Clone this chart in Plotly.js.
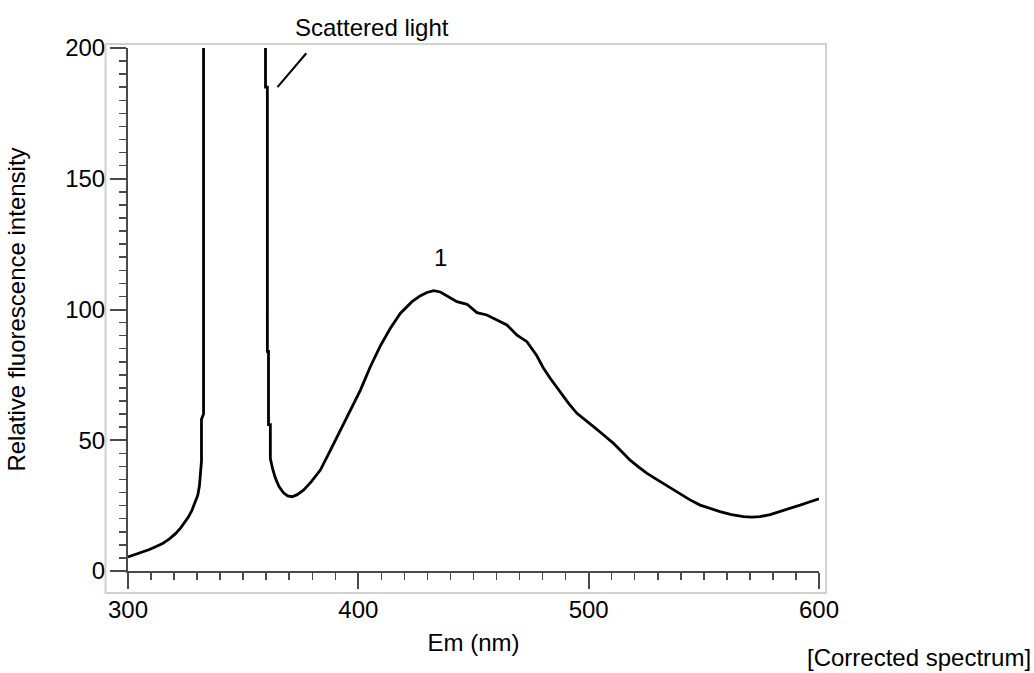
<!DOCTYPE html>
<html>
<head>
<meta charset="utf-8">
<script src="https://cdn.plot.ly/plotly-3.0.1.min.js"></script>
<style>html,body{margin:0;padding:0;background:#fff;}#chart{width:1034px;height:673px;}</style>
</head>
<body>
<div id="chart"></div>
<script>
// Emission wavelength (nm) and relative fluorescence intensity.
// null marks the off-scale (saturated) stretch between the two tall peaks.
const wavelength = [
  300, 303, 306, 309, 312, 315, 318, 320.5, 322.8, 324.6, 326.2, 327.8, 329.3, 330.3, 331.0, 331.5, 331.9, 331.9, 332.8, 332.8,
  346,
  359.7, 359.7, 360.5, 360.5, 361.0, 361.0, 361.8, 361.8, 362.8, 364.0, 365.5, 367.5, 369.3, 371.2, 373.5, 376.3, 379.6, 383.5,
  387.8, 392.2, 396.5, 400.9, 405.2, 409.5, 413.9, 418.2, 423.3, 426.8, 429.8, 432.7, 435.6, 438.5, 442.8, 447.2, 451.5,
  455.8, 460.2, 464.5, 468.9, 473.2, 477.5, 480.4, 483.3, 487.6, 491.2, 494.9, 498.5, 502.1, 506.5, 510.8, 514.4, 518.0,
  521.6, 525.2, 528.8, 532.4, 536.0, 539.7, 544.0, 548.4, 552.7, 557.0, 562.0, 567.2, 570.8, 574.4, 578.8, 583.1, 587.4, 591.8, 595.8, 600
];
const intensity = [
  5.4, 6.3, 7.1, 8.1, 9.3, 10.5, 12.3, 14.2, 16.4, 18.4, 20.6, 23.3, 26.4, 29.0, 32.5, 37.5, 42.0, 58.0, 60.0, 200,
  null,
  200, 185, 185, 84, 84, 56, 56, 43, 39.0, 35.5, 32.4, 29.9, 28.7, 28.4, 29.2, 31.0, 34.2, 38.6,
  46.0, 54.0, 61.5, 69.2, 78.1, 86.0, 92.8, 98.5, 103.0, 105.2, 106.5, 107.2, 106.7, 105.2, 103.0, 102.0, 98.8,
  97.9, 96.0, 94.1, 90.2, 87.7, 82.3, 77.5, 73.7, 68.5, 64.2, 60.3, 57.6, 55.2, 52.0, 48.8, 45.6, 42.4,
  39.8, 37.4, 35.4, 33.5, 31.5, 29.4, 27.2, 25.2, 23.8, 22.7, 21.6, 20.8, 20.6, 20.8, 21.6, 22.7, 23.9, 25.2, 26.4, 27.6
];
const xMajorTicks = [300, 400, 500, 600];
const xMidTicks = [350, 450, 550];
const yMajorTicks = [0, 50, 100, 150, 200];
const yMidTicks = [25, 75, 125, 175];
const xRange = [300, 600];
const yRange = [0, 200];
const peakLabel = {text: '1', x: 435.5, y: 120};
const scatterLeader = {x0: 364.9, y0: 185, x1: 377.4, y1: 198};

const FONT = 'Liberation Sans, Arial, Helvetica, sans-serif';
const FS = 24;
const AX = '#4a4a4a';

const trace = {
  x: wavelength, y: intensity, type: 'scatter', mode: 'lines',
  connectgaps: false,
  line: {color: '#000', width: 2.8},
  hoverinfo: 'skip'
};

const layout = {
  width: 1034, height: 673,
  margin: {l: 128, r: 215, t: 48, b: 102},
  paper_bgcolor: '#fff', plot_bgcolor: '#fff',
  showlegend: false,
  font: {family: FONT, size: FS, color: '#000'},
  xaxis: {
    range: xRange, showgrid: false, zeroline: false,
    showline: true, linecolor: AX, linewidth: 2,
    ticks: 'outside', tickvals: xMajorTicks, ticklen: 16, tickwidth: 2, tickcolor: AX,
    tickfont: {family: FONT, size: FS, color: '#000'},
    minor: {dtick: 10, tick0: 300, ticks: 'outside', ticklen: 7, tickwidth: 1.5, tickcolor: AX, showgrid: false},
    title: {text: 'Em (nm)', font: {family: FONT, size: FS, color: '#000'}, standoff: 12},
    fixedrange: true
  },
  yaxis: {
    range: yRange, showgrid: false, zeroline: false,
    showline: true, linecolor: AX, linewidth: 2,
    ticks: 'outside', tickvals: yMajorTicks, ticklen: 16, tickwidth: 2, tickcolor: AX,
    tickfont: {family: FONT, size: FS, color: '#000'},
    minor: {dtick: 5, tick0: 0, ticks: 'outside', ticklen: 7, tickwidth: 1.5, tickcolor: AX, showgrid: false},
    title: {text: 'Relative fluorescence intensity', font: {family: FONT, size: FS, color: '#000'}, standoff: 33},
    fixedrange: true
  },
  xaxis2: {
    overlaying: 'x', anchor: 'y', side: 'bottom', range: xRange,
    showgrid: false, zeroline: false, showline: false, showticklabels: false,
    ticks: 'outside', tickvals: xMidTicks, ticklen: 12, tickwidth: 1.5, tickcolor: AX, fixedrange: true
  },
  yaxis2: {
    overlaying: 'y', anchor: 'x', side: 'left', range: yRange,
    showgrid: false, zeroline: false, showline: false, showticklabels: false,
    ticks: 'outside', tickvals: yMidTicks, ticklen: 11, tickwidth: 1.5, tickcolor: AX, fixedrange: true
  },
  shapes: [
    {type: 'rect', xref: 'paper', yref: 'paper', x0: -0.0325, x1: 1.0101, y0: -0.042, y1: 1.0076,
     line: {color: '#d0d0d0', width: 2}, layer: 'below'},
    {type: 'line', xref: 'x', yref: 'y', x0: scatterLeader.x0, y0: scatterLeader.y0,
     x1: scatterLeader.x1, y1: scatterLeader.y1, line: {color: '#000', width: 2}}
  ],
  annotations: [
    {text: 'Scattered light', xref: 'paper', yref: 'paper', x: 0.3536, y: 1.040,
     xanchor: 'center', yanchor: 'middle',
     showarrow: false, font: {family: FONT, size: FS, color: '#000'}},
    {text: peakLabel.text, xref: 'x', yref: 'y', x: peakLabel.x, y: peakLabel.y,
     xanchor: 'center', yanchor: 'middle',
     showarrow: false, font: {family: FONT, size: FS, color: '#000'}},
    {text: '[Corrected spectrum]', xref: 'paper', yref: 'paper', x: 1.308, y: -0.165,
     xanchor: 'right', yanchor: 'middle', borderpad: 0, showarrow: false,
     font: {family: FONT, size: FS, color: '#000'}}
  ]
};

Plotly.newPlot('chart', [trace], layout, {displayModeBar: false, staticPlot: true});
</script>
</body>
</html>
